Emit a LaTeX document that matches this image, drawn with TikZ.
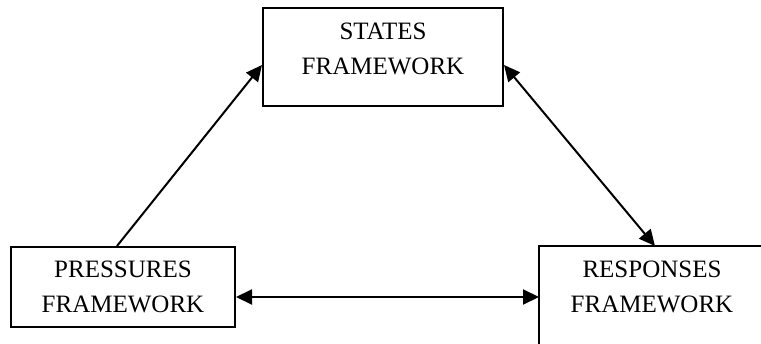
\documentclass[tikz,border=0pt]{standalone}
\usepackage{fontspec}
\setmainfont{Liberation Serif}
\usetikzlibrary{arrows.meta}

\tikzset{
  frame/.style={draw, line width=2pt, align=center, inner sep=0pt,
    font=\fontsize{25}{35}\selectfont},
  link/.style={line width=2pt, -{Triangle[length=16pt,width=15pt]}},
  biglink/.style={line width=2pt, {Triangle[length=16pt,width=15pt]}-{Triangle[length=16pt,width=15pt]}}
}

\begin{document}
\begin{tikzpicture}[x=1pt, y=-1pt]

\useasboundingbox (0,0) rectangle (761,343);

\node[frame, minimum width=240pt, minimum height=98pt, text depth=16pt] (states) at (383,57) {STATES\\FRAMEWORK};
\node[frame, minimum width=224pt, minimum height=80pt] (press) at (123,287) {PRESSURES\\FRAMEWORK};
% right box runs off the page
\node[frame, draw=none, minimum width=224pt, minimum height=80pt] (resp) at (652,287) {RESPONSES\\FRAMEWORK};
\draw[line width=2pt] ([yshift=-40pt]resp.south west) |- ([xshift=20pt]resp.north east);

\draw[link] ([xshift=-6pt]press.north) -- ([yshift=-8pt]states.west);
\draw[biglink] ([yshift=-8pt]states.east) -- ([xshift=3pt]resp.north);
\draw[biglink] ([yshift=-10pt]press.east) -- ([yshift=-10pt]resp.west);

\end{tikzpicture}
\end{document}
